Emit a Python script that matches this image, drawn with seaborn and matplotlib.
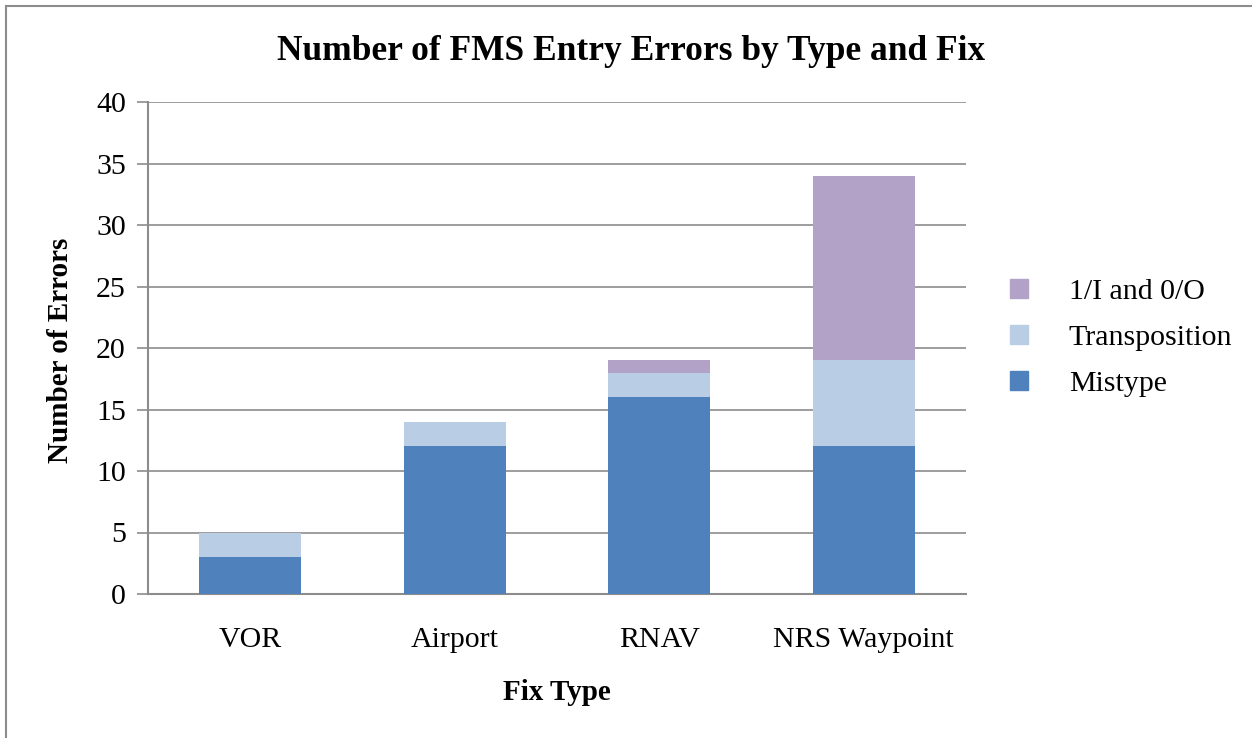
import matplotlib
matplotlib.use("Agg")
import matplotlib.pyplot as plt
import seaborn as sns
import pandas as pd
import numpy as np
from matplotlib.patches import Patch, Rectangle

categories = ["VOR", "Airport", "RNAV", "NRS Waypoint"]
mistype = [3, 12, 16, 12]
transposition = [2, 2, 2, 7]
io_errors = [0, 0, 1, 15]
series_names = ["Mistype", "Transposition", "1/I and 0/O"]
colors = ["#4F81BD", "#B9CDE5", "#B3A2C7"]

sns.set_theme(style="white")
plt.rcParams['font.family'] = ['Liberation Serif', 'DejaVu Serif']
plt.rcParams['text.color'] = 'black'
plt.rcParams['axes.labelcolor'] = 'black'
plt.rcParams['xtick.color'] = 'black'
plt.rcParams['ytick.color'] = 'black'

fig = plt.figure(figsize=(12.52, 7.38), dpi=100)
ax = fig.add_axes([148/1252, 1-594/738, 818/1252, 492/738])

cum1 = np.array(mistype)
cum2 = cum1 + np.array(transposition)
cum3 = cum2 + np.array(io_errors)

for vals, col in [(cum3, colors[2]), (cum2, colors[1]), (cum1, colors[0])]:
    df = pd.DataFrame({"cat": categories, "val": vals})
    sns.barplot(data=df, x="cat", y="val", order=categories, color=col,
                width=0.5, saturation=1, ax=ax, zorder=3, linewidth=0, errorbar=None)

ax.set_ylim(0, 40)
ax.set_yticks(range(0, 41, 5))
ax.set_xlim(-0.5, 3.5)
ax.yaxis.grid(True, color="#8C8C8C", linewidth=1.2, zorder=0)
ax.set_axisbelow(True)
for s in ["top", "right"]:
    ax.spines[s].set_visible(False)
for s in ["left", "bottom"]:
    ax.spines[s].set_color("#8C8C8C")
    ax.spines[s].set_linewidth(1.5)
ax.tick_params(axis="y", length=8, width=1.2, color="#8C8C8C", left=True,
               labelsize=21.5, pad=8, labelcolor="black")
ax.tick_params(axis="x", length=0, labelsize=21.5, pad=24, labelcolor="black")
ax.set_xlabel("")
ax.set_ylabel("")

fig.text(557/1252, 1-692/738, "Fix Type", ha="center", va="center",
         fontsize=21, fontweight="bold", color="black")
fig.text(60/1252, 1-350/738, "Number of Errors", ha="center", va="center",
         rotation=90, fontsize=21, fontweight="bold", color="black")
fig.text(631/1252, 1-51/738, "Number of FMS Entry Errors by Type and Fix", ha="center", va="center",
         fontsize=25.5, fontweight="bold", color="black")

handles = [Patch(color=colors[2], label=series_names[2]),
           Patch(color=colors[1], label=series_names[1]),
           Patch(color=colors[0], label=series_names[0])]
fig.legend(handles=handles, loc="center left", bbox_to_anchor=(983/1252, 1-338/738),
           frameon=False, fontsize=21.5, handlelength=0.6, handleheight=0.6,
           handletextpad=1.37, labelspacing=0.68, labelcolor="black")

fig.patches.append(Rectangle((6/1252, -0.1), 1.5, 1-6/738+0.1, transform=fig.transFigure,
                             fill=False, edgecolor="#8C8C8C", linewidth=1.5))

fig.savefig("out.png", dpi=100)
